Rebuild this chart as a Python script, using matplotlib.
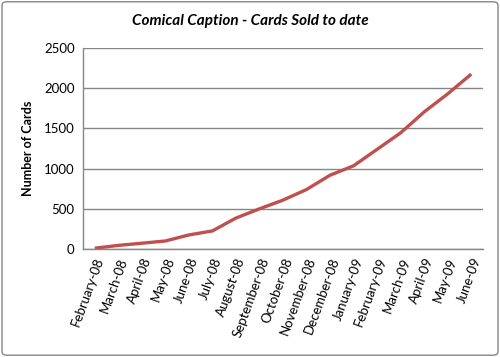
import matplotlib.pyplot as plt
from matplotlib.patches import FancyBboxPatch

months = ['February-08', 'March-08', 'April-08', 'May-08', 'June-08', 'July-08',
          'August-08', 'September-08', 'October-08', 'November-08', 'December-08',
          'January-09', 'February-09', 'March-09', 'April-09', 'May-09', 'June-09']
cards = [10, 45, 72, 100, 175, 225, 385, 500, 608, 740, 918, 1035, 1240, 1445,
         1705, 1930, 2175]
yticks = [0, 500, 1000, 1500, 2000, 2500]

plt.rcParams['font.family'] = ['Lato', 'DejaVu Sans']

fig = plt.figure(figsize=(5, 3.57), dpi=100)
ax = fig.add_axes([0.166, 0.3025, 0.8, 0.563])

x = range(len(months))
ax.plot(x, cards, color='#c0504d', linewidth=2.4, solid_capstyle='butt')

ax.set_xlim(-0.5, len(months) - 0.5)
ax.set_ylim(0, 2500)
ax.set_yticks(yticks)
ax.set_xticks(list(x))
ax.set_xticklabels(months, rotation=70, ha='right', rotation_mode='anchor')
ax.tick_params(length=0, labelsize=9.5, pad=6)
ax.tick_params(axis='x', pad=5)
ax.grid(axis='y', color='#868686', linewidth=1)
ax.set_axisbelow(True)
for s in ['top', 'right']:
    ax.spines[s].set_visible(False)
for s in ['left', 'bottom']:
    ax.spines[s].set_color('#868686')
    ax.spines[s].set_linewidth(1)

ax.set_ylabel('Number of Cards', fontsize=9, fontweight='bold', labelpad=7)
fig.text(0.5, 0.94, 'Comical Caption - Cards Sold to date', ha='center', va='center',
         fontsize=11, fontweight='bold', fontstyle='italic')

border = FancyBboxPatch((0.004, 0.005), 0.992, 0.99, boxstyle='round,pad=0,rounding_size=0.01',
                        transform=fig.transFigure, fill=False, edgecolor='#868686', linewidth=1)
fig.patches.append(border)

fig.savefig('out.png', dpi=100)
